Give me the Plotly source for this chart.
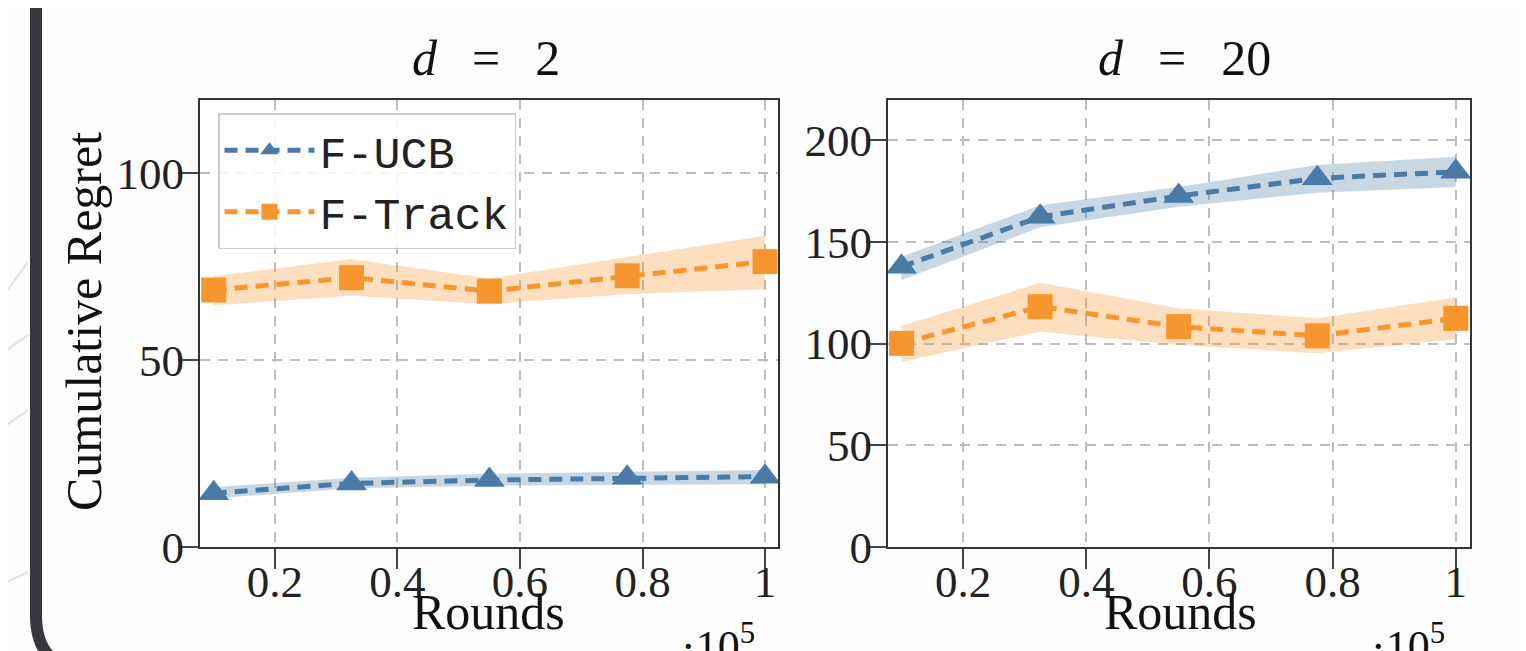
import plotly.graph_objects as go

# ---------------- data ----------------
rounds = [0.1, 0.325, 0.55, 0.775, 1.0]          # x 10^5
x_ticks = [0.2, 0.4, 0.6, 0.8, 1.0]
x_tick_text = ["0.2", "0.4", "0.6", "0.8", "1"]

# d = 2
ucb_d2 = [14.4, 17.0, 17.9, 18.5, 18.8]
ucb_d2_lo = [13.0, 15.7, 16.4, 16.6, 16.8]
ucb_d2_hi = [16.0, 18.5, 19.6, 20.1, 20.6]
track_d2 = [68.7, 72.0, 68.4, 72.5, 76.3]
track_d2_lo = [64.6, 67.2, 64.9, 67.6, 68.9]
track_d2_hi = [72.4, 77.0, 71.8, 77.6, 83.2]

# d = 20
ucb_d20 = [137.7, 162.3, 172.5, 181.2, 184.4]
ucb_d20_lo = [131.2, 157.1, 167.2, 174.1, 177.0]
ucb_d20_hi = [142.6, 168.0, 177.0, 187.7, 191.8]
track_d20 = [100.1, 118.1, 108.3, 103.8, 112.4]
track_d20_lo = [91.1, 105.8, 99.3, 95.2, 102.1]
track_d20_hi = [108.6, 129.9, 117.3, 112.4, 122.7]

y_ticks_d2 = [0, 50, 100]
y_ticks_d20 = [0, 50, 100, 150, 200]

series_names = ["F-UCB", "F-Track"]
titles = ["d = 2", "d = 20"]

# ---------------- style ----------------
W, H = 1526, 651
OFF = 8  # page body margin in the browser
BLUE = "#4a7ba7"
ORANGE = "#f7962e"
BLUE_BAND = "rgba(74,123,167,0.30)"
ORANGE_BAND = "rgba(247,150,46,0.30)"
SERIF = "Liberation Serif"
MONO = "Liberation Mono"


def px(x):
    return (x - OFF) / W


def py(y):
    return 1 - (y - OFF) / H


fig = go.Figure()


def add_series(xa, ya, y, lo, hi, color, band, symbol, msize, name, show):
    fig.add_trace(go.Scatter(x=rounds, y=hi, mode="lines", line=dict(width=0, color=band),
                             xaxis=xa, yaxis=ya, showlegend=False, hoverinfo="skip"))
    fig.add_trace(go.Scatter(x=rounds, y=lo, mode="lines", line=dict(width=0, color=band),
                             fill="tonexty", fillcolor=band,
                             xaxis=xa, yaxis=ya, showlegend=False, hoverinfo="skip"))
    fig.add_trace(go.Scatter(x=rounds, y=y, mode="lines+markers", name=name,
                             line=dict(color=color, width=5, dash="13px,8px"),
                             marker=dict(symbol=symbol, size=msize, color=color),
                             xaxis=xa, yaxis=ya, showlegend=show, cliponaxis=False))


add_series("x", "y", ucb_d2, ucb_d2_lo, ucb_d2_hi, BLUE, BLUE_BAND, "triangle-up", 27, series_names[0], True)
add_series("x", "y", track_d2, track_d2_lo, track_d2_hi, ORANGE, ORANGE_BAND, "square", 25, series_names[1], True)
add_series("x2", "y2", ucb_d20, ucb_d20_lo, ucb_d20_hi, BLUE, BLUE_BAND, "triangle-up", 27, series_names[0], False)
add_series("x2", "y2", track_d20, track_d20_lo, track_d20_hi, ORANGE, ORANGE_BAND, "square", 25, series_names[1], False)

axis_common = dict(
    showline=True, mirror=True, linecolor="#333333", linewidth=2,
    showgrid=True, gridcolor="#bdbdbd", gridwidth=1.5, griddash="10px,8px",
    ticks="outside", ticklen=20, tickwidth=1.5, tickcolor="#444444",
    tickfont=dict(family=SERIF, size=45, color="#222222"),
    zeroline=False, automargin=False,
)

ydom = [py(547), py(100)]
fig.update_layout(
    width=W, height=H,
    margin=dict(l=0, r=0, t=0, b=0),
    paper_bgcolor="#fdfdfd",
    plot_bgcolor="#ffffff",
    xaxis=dict(domain=[px(200), px(778)], range=[0.0776, 1.0212], ticklabelstandoff=-26,
               tickvals=x_ticks, ticktext=x_tick_text, anchor="y", **axis_common),
    yaxis=dict(domain=ydom, range=[0, 119.5], tickvals=y_ticks_d2, anchor="x",
               ticklabelstandoff=-15, **axis_common),
    xaxis2=dict(domain=[px(888), px(1470)], range=[0.078, 1.023], ticklabelstandoff=-26,
                tickvals=x_ticks, ticktext=x_tick_text, anchor="y2", **axis_common),
    yaxis2=dict(domain=ydom, range=[0, 219.7], tickvals=y_ticks_d20, anchor="x2",
                ticklabelstandoff=-15, **axis_common),
    legend=dict(x=px(218), y=py(113), xanchor="left", yanchor="top", traceorder="normal",
                font=dict(family=MONO, size=45, color="#222222"),
                bgcolor="rgba(255,255,255,0.85)", bordercolor="#cccccc", borderwidth=1.5,
                itemwidth=90, tracegroupgap=0),
    showlegend=True,
)

annotations = []
# titles
for t, cx in zip(titles, [486, 1184]):
    d, rest = t.split(" = ")
    annotations.append(dict(x=px(cx), y=py(58), xref="paper", yref="paper",
                            text=f"<i>{d}</i>\u2002\u2009=\u2002\u2009{rest}", showarrow=False,
                            font=dict(family=SERIF, size=50, color="#111111"),
                            xanchor="center", yanchor="middle"))
# x-axis titles
for cx in [488, 1180]:
    annotations.append(dict(x=px(cx), y=py(612), xref="paper", yref="paper", text="Rounds",
                            showarrow=False, font=dict(family=SERIF, size=50, color="#111111"),
                            xanchor="center", yanchor="middle"))
# multipliers
for cx in [718, 1408]:
    annotations.append(dict(x=px(cx), y=py(643), xref="paper", yref="paper",
                            text="\u00b710<sup>5</sup>", showarrow=False,
                            font=dict(family=SERIF, size=44, color="#111111"),
                            xanchor="center", yanchor="middle"))
# y-axis title
annotations.append(dict(x=px(84), y=py(322), xref="paper", yref="paper", text="Cumulative Regret",
                        textangle=-90, showarrow=False,
                        font=dict(family=SERIF, size=50, color="#111111"),
                        xanchor="center", yanchor="middle"))
fig.update_layout(annotations=annotations)

# slide frame (dark rounded border) and faint decorative background lines
shapes = [
    dict(type="path", xref="paper", yref="paper",
         path=f"M {px(36)} {py(-10)} L {px(36)} {py(615)} Q {px(36)} {py(670)} {px(90)} {py(670)}",
         line=dict(color="#36373c", width=12), layer="above"),
    dict(type="rect", xref="paper", yref="paper", x0=px(1518), x1=px(1535), y0=py(-5), y1=py(670),
         fillcolor="#36373c", line=dict(width=0), layer="above"),
]
for (x0, y0, x1, y1) in [(0, 300, 28, 262), (0, 355, 28, 335), (0, 430, 28, 410), (0, 585, 28, 572)]:
    shapes.append(dict(type="line", xref="paper", yref="paper", x0=px(x0), y0=py(y0), x1=px(x1), y1=py(y1),
                       line=dict(color="rgba(220,190,190,0.5)", width=2), layer="below"))
fig.update_layout(shapes=shapes)

fig.write_html("out.html")
